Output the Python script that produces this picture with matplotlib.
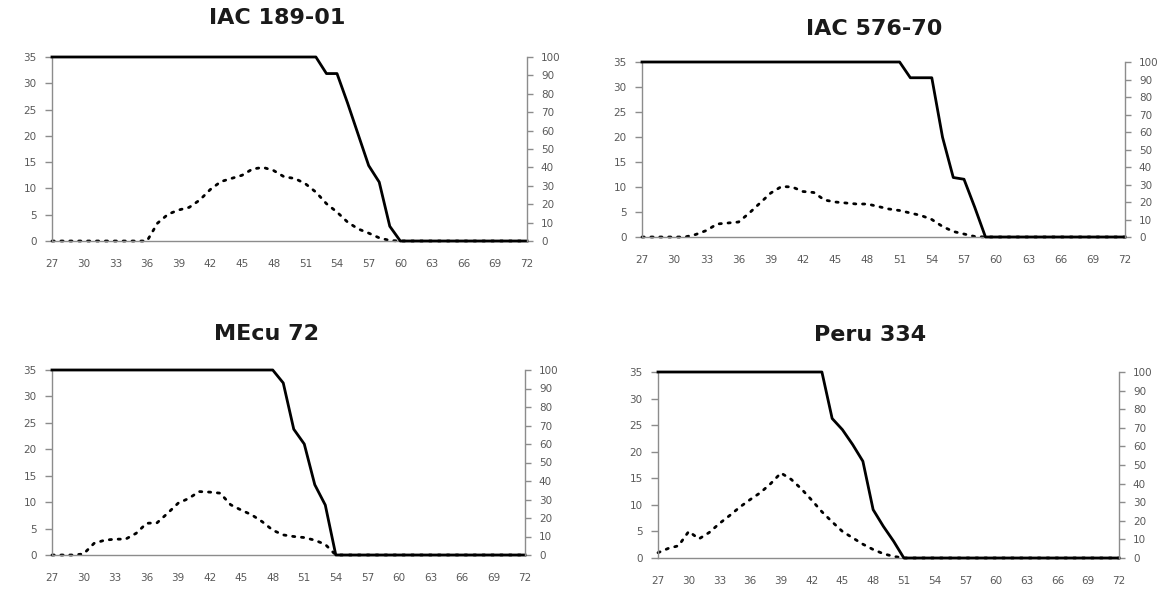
import matplotlib
matplotlib.use('Agg')
import matplotlib.pyplot as plt

days = list(range(27, 73))
day_ticks = list(range(27, 73, 3))

titles = ['IAC 189-01', 'IAC 576-70', 'MEcu 72', 'Peru 334']

# dotted series, left axis (0-35)
iac189_dot = [0, 0, 0, 0, 0, 0, 0, 0, 0, 0,
              3.4, 5.1, 5.9, 6.4, 7.8, 9.8, 11.3, 11.9, 12.5, 13.7, 14.0, 13.4,
              12.2, 11.9, 10.9, 9.3, 7.1, 5.5, 3.6, 2.3, 1.5, 0.6, 0.1,
              0, 0, 0, 0, 0, 0, 0, 0, 0, 0, 0, 0, 0]
iac576_dot = [0, 0, 0, 0, 0,
              0.5, 1.3, 2.6, 2.8, 3.0, 4.8, 6.8, 8.8, 10.1, 10.0, 9.1, 8.9, 7.4,
              7.0, 6.8, 6.6, 6.6, 6.1, 5.6, 5.3, 4.8, 4.3, 3.5, 2.1, 1.1, 0.6, 0.1,
              0, 0, 0, 0, 0, 0, 0, 0, 0, 0, 0, 0, 0, 0]
mecu_dot = [0, 0, 0, 0.2,
            2.2, 2.8, 3.0, 3.0, 4.1, 6.0, 6.1, 7.9, 9.8, 10.7, 12.0, 11.9, 11.7,
            9.5, 8.5, 7.6, 6.3, 4.7, 3.8, 3.5, 3.3, 2.8, 2.0,
            0, 0, 0, 0, 0, 0, 0, 0, 0, 0, 0, 0, 0, 0, 0, 0, 0, 0, 0]
peru_dot = [1.0, 1.8, 2.3, 5.0, 3.6, 4.8, 6.5, 8.0, 9.6, 11.0, 12.3, 14.0, 16.0,
            14.8, 13.0, 10.9, 8.7, 6.8, 5.0, 3.8, 2.6, 1.6, 0.8, 0.3,
            0, 0, 0, 0, 0, 0, 0, 0, 0, 0, 0, 0, 0, 0, 0, 0, 0, 0, 0, 0, 0, 0]

# solid series, right axis (0-100)
iac189_sol = [100, 100, 100, 100, 100, 100, 100, 100, 100, 100, 100, 100, 100,
              100, 100, 100, 100, 100, 100, 100, 100, 100, 100, 100, 100, 100,
              91, 91, 75, 58, 41, 32, 8,
              0, 0, 0, 0, 0, 0, 0, 0, 0, 0, 0, 0, 0]
iac576_sol = [100, 100, 100, 100, 100, 100, 100, 100, 100, 100, 100, 100, 100,
              100, 100, 100, 100, 100, 100, 100, 100, 100, 100, 100, 100,
              91, 91, 91, 57, 34, 33, 17,
              0, 0, 0, 0, 0, 0, 0, 0, 0, 0, 0, 0, 0, 0]
mecu_sol = [100, 100, 100, 100, 100, 100, 100, 100, 100, 100, 100, 100, 100,
            100, 100, 100, 100, 100, 100, 100, 100, 100,
            93, 68, 60, 38, 27,
            0, 0, 0, 0, 0, 0, 0, 0, 0, 0, 0, 0, 0, 0, 0, 0, 0, 0, 0]
peru_sol = [100, 100, 100, 100, 100, 100, 100, 100, 100, 100, 100, 100, 100,
            100, 100, 100, 100,
            75, 69, 61, 52, 26, 17, 9,
            0, 0, 0, 0, 0, 0, 0, 0, 0, 0, 0, 0, 0, 0, 0, 0, 0, 0, 0, 0, 0, 0]

dotted = [iac189_dot, iac576_dot, mecu_dot, peru_dot]
solid = [iac189_sol, iac576_sol, mecu_sol, peru_sol]

# axes boxes in pixels: left, right, top, bottom
boxes = [(52, 527, 57, 241), (642, 1125, 62, 237),
         (52, 525, 370, 555), (658, 1119, 372, 558)]
title_pos = [(277, 18), (874, 29), (266, 334), (870, 335)]

W, H = 1175, 589
fig = plt.figure(figsize=(W / 100, H / 100), dpi=100)
grey = '#8c8c8c'
tc = '#595959'

for i in range(4):
    l, r, t, b = boxes[i]
    ax = fig.add_axes([l / W, 1 - b / H, (r - l) / W, (b - t) / H])
    ax2 = ax.twinx()

    ax.plot(days, dotted[i], color='black', lw=2.0,
            linestyle=(0, (0.8, 2.4)), dash_capstyle='round', clip_on=False)
    ax2.plot(days, solid[i], color='black', lw=2.0, clip_on=False,
             solid_joinstyle='round')

    ax.set_xlim(27, 72)
    ax.set_ylim(0, 35)
    ax2.set_ylim(0, 100)
    ax.set_yticks(range(0, 36, 5))
    ax2.set_yticks(range(0, 101, 10))
    ax.set_xticks(day_ticks)

    for a in (ax, ax2):
        for s in a.spines.values():
            s.set_color(grey)
            s.set_linewidth(1.0)
        a.spines['top'].set_visible(False)
    ax.spines['right'].set_visible(False)
    ax2.spines['left'].set_visible(False)
    ax2.spines['bottom'].set_visible(False)

    ax.tick_params(axis='x', length=0, pad=13, labelsize=7.5, labelcolor=tc)
    ax.tick_params(axis='y', length=5, width=1, color=grey, pad=6,
                   labelsize=7.5, labelcolor=tc)
    ax2.tick_params(axis='y', length=4, width=1, color=grey, pad=6,
                    labelsize=7.5, labelcolor=tc)

    fig.text(title_pos[i][0] / W, 1 - title_pos[i][1] / H, titles[i],
             ha='center', va='center', fontsize=16, fontweight='bold',
             color='#1a1a1a')

fig.savefig('out.png', dpi=100)
